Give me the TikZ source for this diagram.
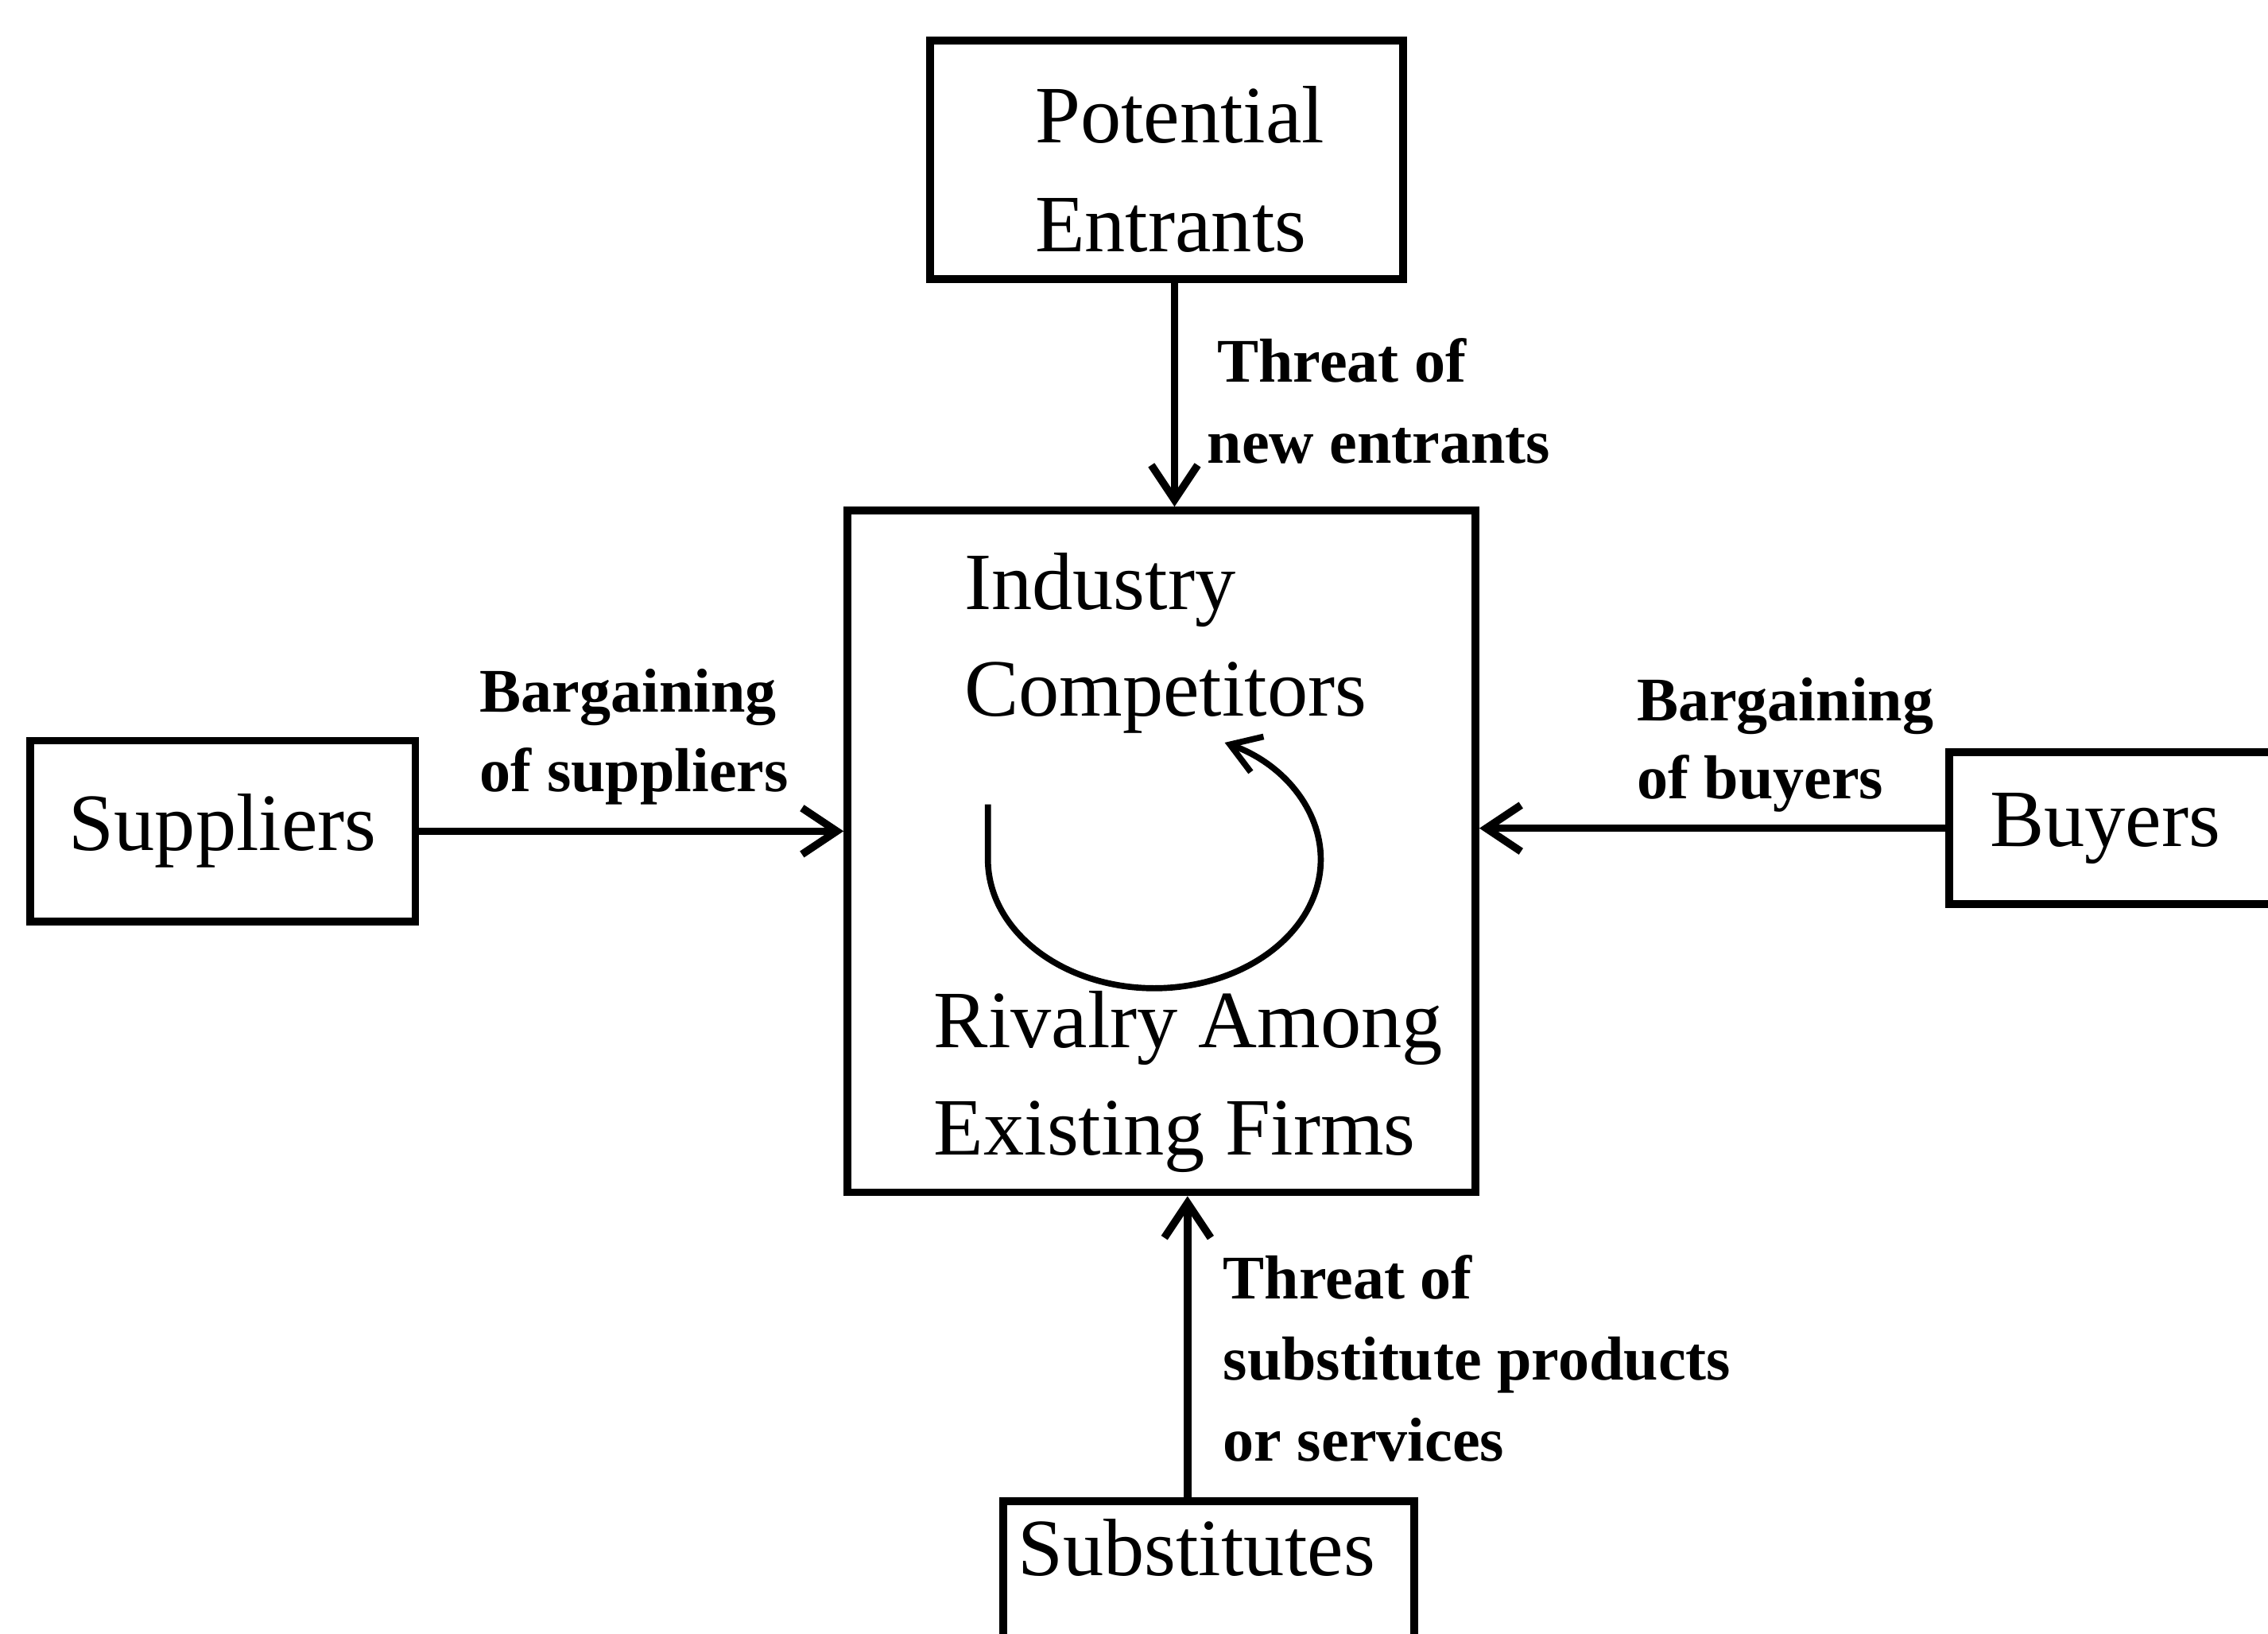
\documentclass[tikz,border=0pt]{standalone}
\usepackage{fontspec}
\setmainfont{Liberation Serif}
\usetikzlibrary{arrows.meta}
\begin{document}
\begin{tikzpicture}[x=0.01cm,y=-0.01cm,
  box/.style={draw=black, line width=1.5pt, fill=none, inner sep=0pt},
  bigtext/.style={font=\fontsize{16}{21}\selectfont, inner sep=0pt, anchor=base west},
  smalltext/.style={font=\bfseries\fontsize{12.2}{16}\selectfont, inner sep=0pt, anchor=base west},
  arr/.style={line width=1.5pt, -{Straight Barb[length=0.24cm,width=0.32cm,line width=1.5pt]}},
  looparr/.style={line width=1.2pt, -{Straight Barb[length=0.2cm,width=0.26cm,line width=1.2pt]}}]

% page area
\useasboundingbox (0,0) rectangle (1568,1129);
\fill[white] (0,0) rectangle (1568,1129);
\clip (0,0) rectangle (1568,1129);

% boxes
\node[box, minimum width=3.27cm, minimum height=1.65cm] (pot) at (806.5,110.5) {};
\node[box, minimum width=4.34cm, minimum height=4.71cm] (core) at (803,588.5) {};
\node[box, minimum width=2.66cm, minimum height=1.25cm,
      font=\fontsize{16}{21}\selectfont] (sup) at (154,574.5) {Suppliers};
\node[box, anchor=west, text width=2.6cm, align=left, inner xsep=0.28cm,
      minimum height=1.05cm, font=\fontsize{16}{21}\selectfont] (buy) at (1345,572.5) {Buyers};
\node[box, anchor=north west, minimum width=2.84cm, minimum height=2cm] (sub) at (691,1035) {};

% box texts
\node[bigtext] (pot1) at (715,98.6) {Potential};
\node[bigtext] (pot2) at (715,174) {Entrants};
\node[bigtext] (core1) at (666,421) {Industry};
\node[bigtext] (core2) at (666,495) {Competitors};
\node[bigtext] (core3) at (645,724) {Rivalry Among};
\node[bigtext] (core4) at (645,798) {Existing Firms};
\node[bigtext] (sub1) at (703,1089) {Substitutes};

% connectors
\coordinate (ax) at (812,0);
\coordinate (bx) at (821,0);
\draw[arr] (pot.south -| ax) -- (core.north -| ax);
\draw[arr] (sup.east) -- (sup.east -| core.west);
\draw[arr] (buy.west) -- (buy.west -| core.east);
\draw[arr] (sub.north -| bx) -- (core.south -| bx);

% rivalry loop
\coordinate (loopstart) at (683,556);
\draw[looparr] (loopstart) -- ++(0,38)
  arc[start angle=180, end angle=425, x radius=1.15cm, y radius=0.89cm];

% connector labels
\node[smalltext] (ent1) at (841,264) {Threat of};
\node[smalltext] (ent2) at (834,320) {new entrants};
\node[smalltext] (sup1) at (331,492) {Bargaining};
\node[smalltext] (sup2) at (331,547) {of suppliers};
\node[smalltext] (buy1) at (1131,498) {Bargaining};
\node[smalltext] (buy2) at (1131,552) {of buyers};
\node[smalltext] (subl1) at (845,898) {Threat of};
\node[smalltext] (subl2) at (845,954) {substitute products};
\node[smalltext] (subl3) at (845,1010) {or services};
\end{tikzpicture}
\end{document}
